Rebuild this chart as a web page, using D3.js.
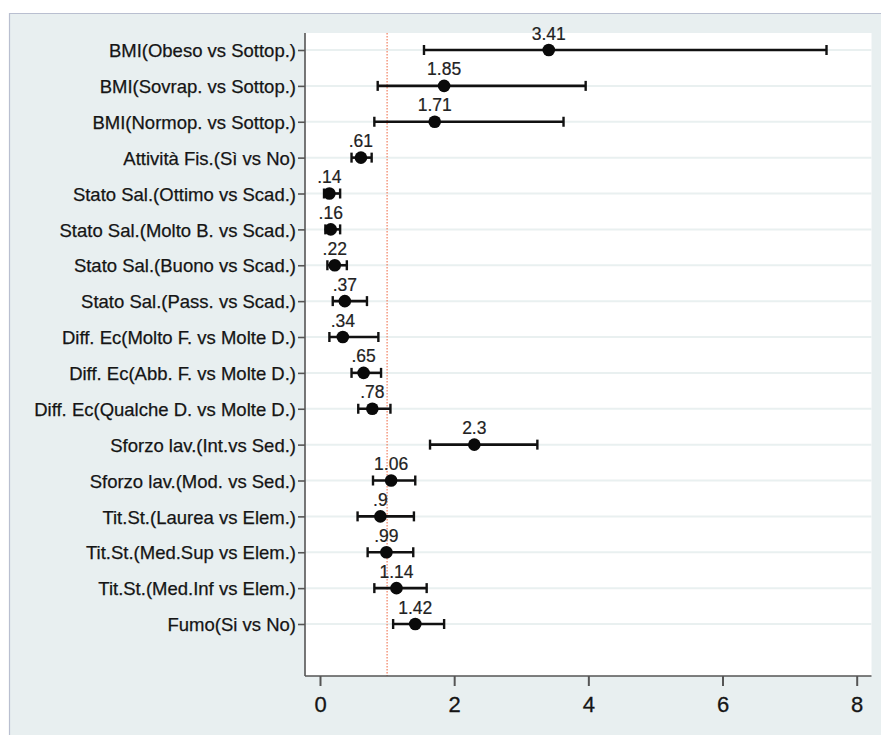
<!DOCTYPE html>
<html>
<head>
<meta charset="utf-8">
<script src="https://cdn.jsdelivr.net/npm/d3@7"></script>
<style>
  html, body { margin: 0; padding: 0; background: #ffffff; }
  svg { display: block; font-family: "Liberation Sans", Arial, sans-serif; }
</style>
</head>
<body>
<svg id="chart" width="881" height="735"></svg>
<script>
const categories = [
  "BMI(Obeso vs Sottop.)",
  "BMI(Sovrap. vs Sottop.)",
  "BMI(Normop. vs Sottop.)",
  "Attività Fis.(Sì vs No)",
  "Stato Sal.(Ottimo vs Scad.)",
  "Stato Sal.(Molto B. vs Scad.)",
  "Stato Sal.(Buono vs Scad.)",
  "Stato Sal.(Pass. vs Scad.)",
  "Diff. Ec(Molto F. vs Molte D.)",
  "Diff. Ec(Abb. F. vs Molte D.)",
  "Diff. Ec(Qualche D. vs Molte D.)",
  "Sforzo lav.(Int.vs Sed.)",
  "Sforzo lav.(Mod. vs Sed.)",
  "Tit.St.(Laurea vs Elem.)",
  "Tit.St.(Med.Sup vs Elem.)",
  "Tit.St.(Med.Inf vs Elem.)",
  "Fumo(Si vs No)"
];
const oddsRatio = [3.41, 1.85, 1.71, 0.61, 0.14, 0.16, 0.22, 0.37, 0.34, 0.65, 0.78, 2.3, 1.06, 0.9, 0.99, 1.14, 1.42];
const ciLower   = [1.55, 0.86, 0.81, 0.47, 0.06, 0.08, 0.11, 0.19, 0.14, 0.47, 0.57, 1.64, 0.79, 0.56, 0.71, 0.81, 1.09];
const ciUpper   = [7.55, 3.96, 3.63, 0.77, 0.30, 0.30, 0.40, 0.70, 0.87, 0.91, 1.05, 3.24, 1.42, 1.40, 1.39, 1.59, 1.85];
const valueLabels = ["3.41", "1.85", "1.71", ".61", ".14", ".16", ".22", ".37", ".34", ".65", ".78", "2.3", "1.06", ".9", ".99", "1.14", "1.42"];
const xTicks = [0, 2, 4, 6, 8];
const refValue = 1;

const rows = categories.map((c, i) => ({cat: c, or: oddsRatio[i], lo: ciLower[i], hi: ciUpper[i], lab: valueLabels[i]}));

const svg = d3.select("#chart");
const W = 881, H = 735;

// outer panel
svg.append("rect").attr("x", 9).attr("y", 13).attr("width", W - 9).attr("height", H - 13)
  .attr("fill", "#e8eff0");
svg.append("line").attr("x1", 9).attr("x2", W).attr("y1", 13.5).attr("y2", 13.5)
  .attr("stroke", "#b9bfd0").attr("stroke-width", 1.2);
svg.append("line").attr("x1", 9.5).attr("x2", 9.5).attr("y1", 13).attr("y2", H)
  .attr("stroke", "#b9bfd0").attr("stroke-width", 1.2);

// plot area
const plot = {left: 305, right: 871.5, top: 33, bottom: 676};
svg.append("rect").attr("x", plot.left).attr("y", plot.top)
  .attr("width", plot.right - plot.left).attr("height", plot.bottom - plot.top)
  .attr("fill", "#ffffff");

const x = d3.scaleLinear().domain([0, 8]).range([320, 856.7]);
const y = d3.scalePoint().domain(categories).range([50, 624]);

// gridlines
svg.append("g").selectAll("line").data(rows).join("line")
  .attr("x1", plot.left).attr("x2", plot.right)
  .attr("y1", d => y(d.cat)).attr("y2", d => y(d.cat))
  .attr("stroke", "#e9f0f0").attr("stroke-width", 2);

// reference line
svg.append("line")
  .attr("x1", x(refValue)).attr("x2", x(refValue))
  .attr("y1", plot.top).attr("y2", plot.bottom)
  .attr("stroke", "#f0734f").attr("stroke-width", 1.1)
  .attr("stroke-dasharray", "1.5,1.5");

// y axis
const yAxis = d3.axisLeft(y).tickSize(7).tickPadding(2);
const gy = svg.append("g").attr("transform", `translate(${plot.left},0)`).call(yAxis);
gy.select(".domain").attr("d", `M0,${plot.top}V${plot.bottom}`).attr("stroke", "#555").attr("stroke-width", 1.6);
gy.selectAll(".tick line").attr("stroke", "#555").attr("stroke-width", 1.6);
gy.selectAll(".tick text").attr("font-size", "18.5px").attr("fill", "#151515")
  .attr("stroke", "#151515").attr("stroke-width", 0.25)
  .attr("font-family", "'Liberation Sans', Arial, sans-serif").attr("dy", "0.36em");

// x axis
const xAxis = d3.axisBottom(x).tickValues(xTicks).tickSize(10).tickPadding(10).tickFormat(d3.format("d"));
const gx = svg.append("g").attr("transform", `translate(0,${plot.bottom})`).call(xAxis);
gx.select(".domain").attr("d", `M${plot.left},0H${plot.right}`).attr("stroke", "#555").attr("stroke-width", 1.6);
gx.selectAll(".tick line").attr("stroke", "#555").attr("stroke-width", 2);
gx.selectAll(".tick text").attr("font-size", "22px").attr("fill", "#151515")
  .attr("stroke", "#151515").attr("stroke-width", 0.3)
  .attr("font-family", "'Liberation Sans', Arial, sans-serif");

// CI whiskers
const g = svg.append("g");
g.selectAll(".ci").data(rows).join("line").attr("class", "ci")
  .attr("x1", d => x(d.lo)).attr("x2", d => x(d.hi))
  .attr("y1", d => y(d.cat)).attr("y2", d => y(d.cat))
  .attr("stroke", "#111").attr("stroke-width", 2.6);
g.selectAll(".capL").data(rows).join("line").attr("class", "capL")
  .attr("x1", d => x(d.lo)).attr("x2", d => x(d.lo))
  .attr("y1", d => y(d.cat) - 5).attr("y2", d => y(d.cat) + 5)
  .attr("stroke", "#111").attr("stroke-width", 2.4);
g.selectAll(".capR").data(rows).join("line").attr("class", "capR")
  .attr("x1", d => x(d.hi)).attr("x2", d => x(d.hi))
  .attr("y1", d => y(d.cat) - 5).attr("y2", d => y(d.cat) + 5)
  .attr("stroke", "#111").attr("stroke-width", 2.4);
g.selectAll(".pt").data(rows).join("circle").attr("class", "pt")
  .attr("cx", d => x(d.or)).attr("cy", d => y(d.cat)).attr("r", 6.3)
  .attr("fill", "#0a0a0a");
g.selectAll(".lab").data(rows).join("text").attr("class", "lab")
  .attr("x", d => x(d.or)).attr("y", d => y(d.cat) - 10.5)
  .attr("text-anchor", "middle").attr("font-size", "17.5px").attr("fill", "#222")
  .attr("stroke", "#222").attr("stroke-width", 0.2)
  .text(d => d.lab);
</script>
</body>
</html>
